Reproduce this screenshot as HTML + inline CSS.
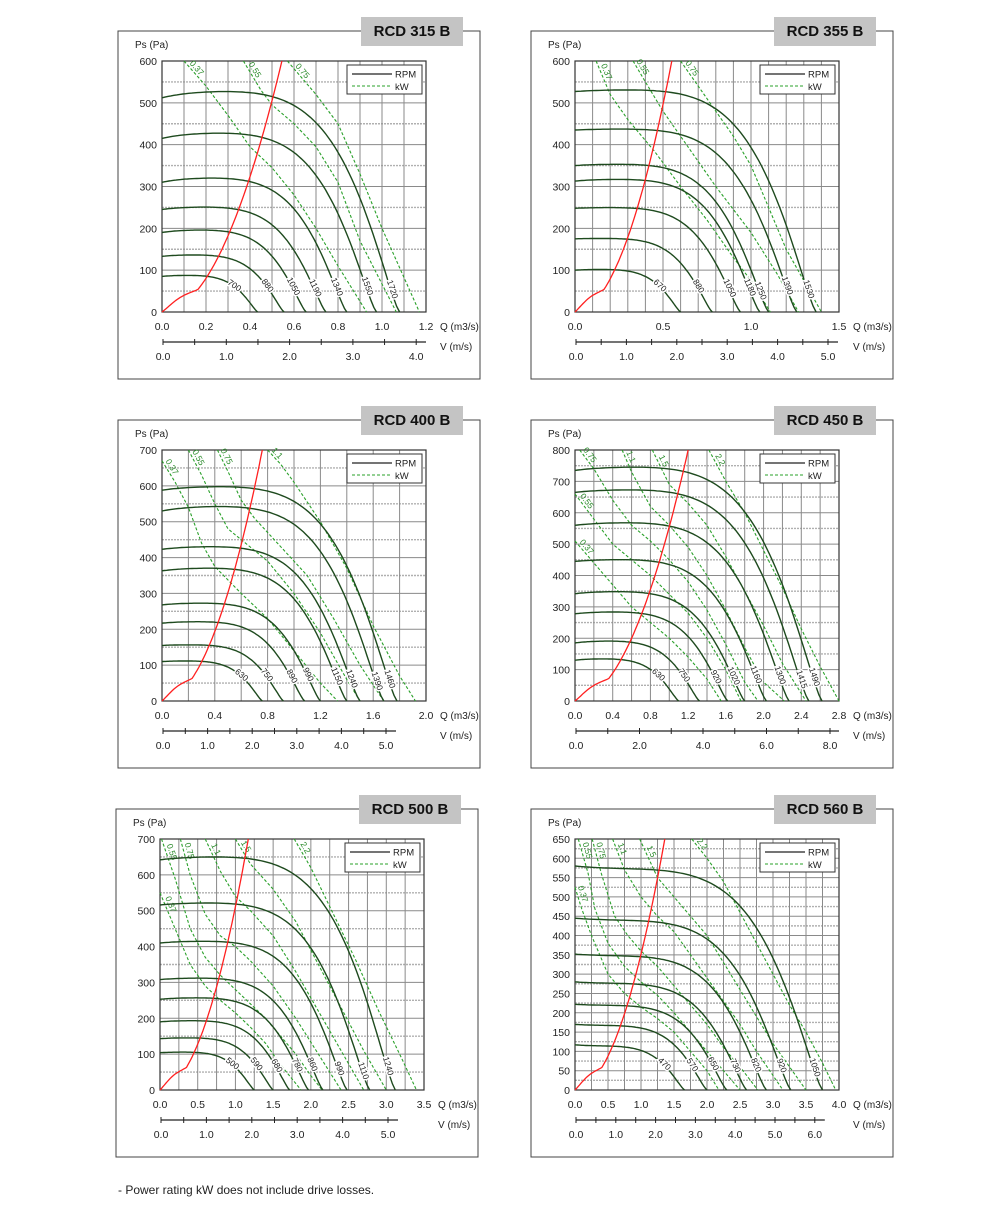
<!DOCTYPE html>
<html><head><meta charset="utf-8"><style>
html,body{margin:0;padding:0;background:#fff}
svg{display:block;font-family:"Liberation Sans",sans-serif}
</style></head><body>
<svg id="s" width="1000" height="1223" viewBox="0 0 1000 1223" xmlns="http://www.w3.org/2000/svg">
<text x="118" y="1194" font-size="12" fill="#222">- Power rating kW does not include drive losses.</text>
</svg>
<script>
const S=document.getElementById('s');let H='';
const P=[
{t:'RCD 315 B',fx:118,fy:31,xmax:1.2,xl:0.2,xg:0.1,ymax:600,yl:100,yg:50,qr:0.545,
 v:{max:4.0,px:63.3,tick:0.5,lab:1},
 c:[[85,88,0.435,'700'],[133,137,0.555,'880'],[190,197,0.655,'1050'],[245,252,0.745,'1190'],[310,322,0.84,'1340'],[415,430,0.975,'1550'],[512,530,1.08,'1720']],
 k:[['0.37',[[0.1,600],[0.2,540],[0.3,470],[0.4,395],[0.5,345],[0.6,280],[0.7,200],[0.8,110],[0.93,0]]],
    ['0.55',[[0.37,600],[0.45,530],[0.5,495],[0.6,450],[0.7,395],[0.8,310],[0.9,170],[1.065,0]]],
    ['0.75',[[0.57,600],[0.7,520],[0.8,450],[0.9,330],[1.0,200],[1.17,0]]]]},
{t:'RCD 355 B',fx:531,fy:31,xmax:1.5,xl:0.5,xg:0.1,ymax:600,yl:100,yg:50,qr:0.55,
 v:{max:5.0,px:50.4,tick:0.5,lab:1},
 c:[[100,102,0.6,'670'],[175,176,0.78,'880'],[248,250,0.94,'1050'],[313,318,1.05,'1180'],[350,354,1.1,'1250'],[435,438,1.26,'1390'],[527,532,1.37,'1530']],
 k:[['0.37',[[0.12,600],[0.2,520],[0.3,460],[0.45,385],[0.6,300],[0.75,220],[0.9,130],[1.0,75],[1.11,0]]],
    ['0.55',[[0.33,600],[0.4,550],[0.5,480],[0.65,390],[0.8,300],[1.0,190],[1.15,90],[1.27,0]]],
    ['0.75',[[0.6,600],[0.7,540],[0.8,480],[0.9,420],[1.0,350],[1.1,250],[1.2,150],[1.4,0]]]]},
{t:'RCD 400 B',fx:118,fy:420,xmax:2.0,xl:0.4,xg:0.2,ymax:700,yl:100,yg:50,qr:0.76,
 v:{max:5.0,px:44.6,tick:0.5,lab:1},
 c:[[110,112,0.76,'630'],[155,157,0.92,'750'],[217,222,1.08,'890'],[268,274,1.2,'990'],[363,372,1.4,'1150'],[423,432,1.5,'1240'],[530,545,1.68,'1390'],[588,600,1.78,'1460']],
 k:[['0.37',[[0,670],[0.1,610],[0.2,540],[0.3,440],[0.4,375],[0.6,300],[0.8,230],[1.0,140],[1.2,50],[1.33,0]]],
    ['0.55',[[0.2,700],[0.3,630],[0.4,550],[0.5,480],[0.6,450],[0.8,390],[1.0,300],[1.2,190],[1.4,60],[1.5,0]]],
    ['0.75',[[0.42,700],[0.5,640],[0.6,560],[0.7,510],[0.9,430],[1.1,350],[1.3,230],[1.5,100],[1.68,0]]],
    ['1.1',[[0.8,700],[0.9,660],[1.0,610],[1.2,500],[1.4,370],[1.6,210],[1.8,70],[1.92,0]]]]},
{t:'RCD 450 B',fx:531,fy:420,xmax:2.8,xl:0.4,xg:0.2,ymax:800,yl:100,yg:50,qr:1.2,
 v:{max:8.0,px:31.75,tick:1,lab:2},
 c:[[130,135,1.1,'630'],[185,192,1.32,'750'],[278,285,1.62,'920'],[342,350,1.8,'1020'],[445,452,2.03,'1160'],[560,570,2.27,'1300'],[665,675,2.48,'1415'],[735,748,2.62,'1490']],
 k:[['0.37',[[0,510],[0.2,440],[0.4,370],[0.6,300],[0.8,250],[1.0,200],[1.2,140],[1.4,70],[1.55,0]]],
    ['0.55',[[0,660],[0.2,580],[0.4,500],[0.6,450],[0.8,400],[1.0,340],[1.2,280],[1.4,200],[1.6,100],[1.76,0]]],
    ['0.75',[[0.05,800],[0.2,740],[0.4,640],[0.6,560],[0.8,510],[1.0,450],[1.2,380],[1.4,290],[1.6,180],[1.8,60],[1.94,0]]],
    ['1.1',[[0.5,800],[0.6,730],[0.8,620],[1.0,560],[1.2,490],[1.4,400],[1.6,290],[1.8,170],[2.0,60],[2.22,0]]],
    ['1.5',[[0.82,800],[1.0,690],[1.2,630],[1.4,560],[1.6,460],[1.8,350],[2.0,240],[2.2,120],[2.45,0]]],
    ['2.2',[[1.42,800],[1.6,700],[1.8,600],[2.0,480],[2.2,360],[2.4,230],[2.6,110],[2.8,0]]]]},
{t:'RCD 500 B',fx:116,fy:809,xmax:3.5,xl:0.5,xg:0.25,ymax:700,yl:100,yg:50,qr:1.17,
 v:{max:5.0,px:45.4,tick:0.5,lab:1},
 c:[[104,106,1.25,'500'],[143,146,1.5,'590'],[190,194,1.72,'680'],[253,258,1.97,'780'],[308,313,2.16,'860'],[410,416,2.48,'990'],[516,523,2.78,'1110'],[642,652,3.12,'1240']],
 k:[['0.37',[[0,550],[0.2,450],[0.4,350],[0.6,290],[0.8,250],[1.0,215],[1.2,175],[1.4,130],[1.6,70],[1.87,0]]],
    ['0.55',[[0.02,700],[0.2,590],[0.4,450],[0.6,370],[0.8,320],[1.0,280],[1.2,240],[1.4,200],[1.6,150],[1.8,100],[2.0,40],[2.15,0]]],
    ['0.75',[[0.27,700],[0.4,600],[0.6,490],[0.8,430],[1.0,400],[1.2,360],[1.5,290],[1.8,200],[2.1,100],[2.4,0]]],
    ['1.1',[[0.6,700],[0.8,610],[1.0,540],[1.2,500],[1.5,430],[1.8,330],[2.1,220],[2.4,110],[2.7,0]]],
    ['1.5',[[1.0,700],[1.2,630],[1.5,560],[1.8,470],[2.1,350],[2.4,230],[2.7,110],[3.0,0]]],
    ['2.2',[[1.78,700],[2.0,620],[2.3,490],[2.6,360],[2.9,220],[3.2,90],[3.4,0]]]]},
{t:'RCD 560 B',fx:531,fy:809,xmax:4.0,xl:0.5,xg:0.25,ymax:650,yl:50,yg:25,qr:1.36,
 v:{max:6.0,px:39.8,tick:0.5,lab:1},
 c:[[117,114,1.66,'470'],[170,167,2.0,'570'],[222,219,2.3,'650'],[280,276,2.6,'730'],[352,347,2.9,'820'],[445,439,3.27,'920'],[580,572,3.75,'1050']],
 k:[['0.37',[[0,525],[0.1,470],[0.25,400],[0.5,300],[0.75,250],[1.0,215],[1.25,185],[1.5,150],[1.75,100],[2.0,50],[2.18,0]]],
    ['0.55',[[0.05,650],[0.2,560],[0.3,470],[0.5,380],[0.75,320],[1.0,280],[1.25,245],[1.5,200],[1.75,150],[2.0,100],[2.25,50],[2.5,0]]],
    ['0.75',[[0.26,650],[0.4,560],[0.6,450],[0.8,400],[1.0,360],[1.25,320],[1.5,270],[1.75,220],[2.0,170],[2.25,110],[2.5,60],[2.77,0]]],
    ['1.1',[[0.57,650],[0.75,570],[1.0,500],[1.25,450],[1.5,410],[1.75,350],[2.0,290],[2.25,230],[2.5,170],[2.75,100],[3.15,0]]],
    ['1.5',[[0.98,650],[1.25,550],[1.5,500],[1.75,450],[2.0,400],[2.25,330],[2.5,260],[2.75,190],[3.0,120],[3.25,60],[3.5,0]]],
    ['2.2',[[1.77,650],[2.0,600],[2.25,540],[2.5,460],[2.75,380],[3.0,300],[3.25,220],[3.5,150],[3.75,70],[3.95,0]]]]}
];
function fmt(v,d){return v.toFixed(d)}
for(const p of P){
 const L=p.fx+44,R=L+264,T=p.fy+30,B=T+251,W=362,Hh=348;
 const X=q=>L+q/p.xmax*264, Y=v=>B-v/p.ymax*251;
 H+=`<rect x="${p.fx}" y="${p.fy}" width="${W}" height="${Hh}" fill="none" stroke="#444" stroke-width="1"/>`;
 H+=`<rect x="${p.fx+W-119}" y="${p.fy-14}" width="102" height="29" fill="#c4c4c4"/>`;
 H+=`<text x="${p.fx+W-68}" y="${p.fy+5}" font-size="15" font-weight="bold" text-anchor="middle" fill="#111">${p.t}</text>`;
 for(let v=p.yg;v<p.ymax-1e-6;v+=p.yg){const maj=Math.abs(v/p.yl-Math.round(v/p.yl))<1e-6;
  H+=`<line x1="${L}" x2="${R}" y1="${Y(v)}" y2="${Y(v)}" stroke="${maj?'#8a8a8a':'#b0b0b0'}" stroke-width="${maj?1:1.4}" ${maj?'':'stroke-dasharray="2,1"'}/>`;}
 for(let q=p.xg;q<p.xmax-1e-6;q+=p.xg){H+=`<line x1="${X(q)}" x2="${X(q)}" y1="${T}" y2="${B}" stroke="#8a8a8a" stroke-width="1"/>`;}
 H+=`<rect x="${L}" y="${T}" width="264" height="251" fill="none" stroke="#333" stroke-width="1.2"/>`;
 for(let v=0;v<=p.ymax+1e-6;v+=p.yl){H+=`<text x="${L-5}" y="${Y(v)+4}" font-size="10.5" text-anchor="end" fill="#222">${Math.round(v)}</text>`;}
 for(let q=0;q<=p.xmax+1e-6;q+=p.xl){H+=`<text x="${X(q)}" y="${B+18}" font-size="10.5" text-anchor="middle" fill="#222">${fmt(q,1)}</text>`;}
 H+=`<text x="${L-27}" y="${T-13}" font-size="10" fill="#222">Ps (Pa)</text>`;
 H+=`<text x="${R+14}" y="${B+18}" font-size="10" fill="#222">Q (m3/s)</text>`;
 const vy=B+30, vL=L+1, vEnd=Math.min(vL+p.v.max*p.v.px+10,R);
 H+=`<line x1="${vL}" x2="${vEnd}" y1="${vy}" y2="${vy}" stroke="#222" stroke-width="1.2"/>`;
 for(let t=0;vL+t*p.v.px<=vEnd+0.5;t+=p.v.tick){H+=`<line x1="${vL+t*p.v.px}" x2="${vL+t*p.v.px}" y1="${vy-3}" y2="${vy+3}" stroke="#222"/>`;}
 for(let t=0;t<=p.v.max+1e-6;t+=p.v.lab){H+=`<text x="${vL+t*p.v.px}" y="${vy+18}" font-size="10.5" text-anchor="middle" fill="#222">${fmt(t,1)}</text>`;}
 H+=`<text x="${R+14}" y="${vy+8}" font-size="10" fill="#222">V (m/s)</text>`;
 for(const [lab,pts] of p.k){
  H+=`<polyline points="${pts.map(a=>X(a[0])+','+Y(a[1])).join(' ')}" fill="none" stroke="#2aa02a" stroke-width="1.1" stroke-dasharray="3,2"/>`;
  const a=pts[0],b=pts[1];const x1=X(a[0]),y1=Y(a[1]),x2=X(b[0]),y2=Y(b[1]);
  const ang=Math.atan2(y2-y1,x2-x1)*180/Math.PI;const mx=x1+(x2-x1)*0.35,my=y1+(y2-y1)*0.35;
  H+=`<text transform="translate(${mx+3},${my}) rotate(${ang})" font-size="8.5" fill="#2a8a2a" text-anchor="middle">${lab}</text>`;
 }
 for(const [p0,pk,qm,lab] of p.c){
  const h=pk/p0-1;let pts=[];const f=u=>p0*(1+h*(1-Math.exp(-u*8)))*Math.pow(Math.max(0,1-Math.pow(u,5)),1.3);
  for(let i=0;i<=80;i++){const u=i/80;pts.push([X(u*qm),Y(f(u))]);}
  H+=`<polyline points="${pts.map(a=>a[0].toFixed(1)+','+a[1].toFixed(1)).join(' ')}" fill="none" stroke="#1e4a1e" stroke-width="1.4"/>`;
  const target=B-27;let idx=pts.findIndex(a=>a[1]>=target);if(idx<1)idx=1;
  const a=pts[idx-1],b=pts[Math.min(idx+1,80)];const ang=Math.atan2(b[1]-a[1],b[0]-a[0])*180/Math.PI;
  H+=`<text transform="translate(${pts[idx][0]+2},${pts[idx][1]}) rotate(${ang})" font-size="8.5" fill="#222" text-anchor="middle" dy="3" stroke="#fff" stroke-width="3" paint-order="stroke">${lab}</text>`;
 }
 let sp=[];for(let i=0;i<=60;i++){const q=p.qr*i/60;let v=p.ymax*Math.pow(q/p.qr,2);v+=p.ymax*0.035*Math.sin(Math.PI*Math.min(1,q/(p.qr*0.3)))*(q<p.qr*0.3?1:0);sp.push(X(q).toFixed(1)+','+Y(v).toFixed(1));}
 H+=`<polyline points="${sp.join(' ')}" fill="none" stroke="#ff2020" stroke-width="1.3"/>`;
 const lx=R-79,ly=T+4;
 H+=`<rect x="${lx}" y="${ly}" width="75" height="29" fill="#fff" stroke="#333" stroke-width="1"/>`;
 H+=`<line x1="${lx+5}" x2="${lx+45}" y1="${ly+9}" y2="${ly+9}" stroke="#222" stroke-width="1.3"/>`;
 H+=`<text x="${lx+48}" y="${ly+12.5}" font-size="9.5" fill="#222">RPM</text>`;
 H+=`<line x1="${lx+5}" x2="${lx+45}" y1="${ly+21}" y2="${ly+21}" stroke="#2aa02a" stroke-width="1" stroke-dasharray="3,2"/>`;
 H+=`<text x="${lx+48}" y="${ly+25}" font-size="9.5" fill="#222">kW</text>`;
}
S.insertAdjacentHTML('beforeend',H);
</script>
</body></html>
